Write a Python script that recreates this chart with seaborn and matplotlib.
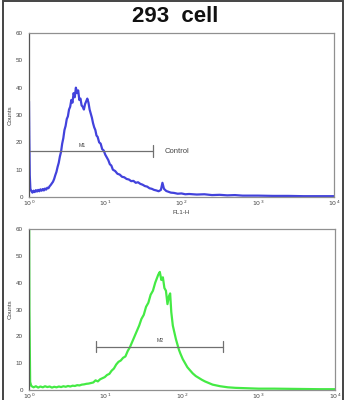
import matplotlib
matplotlib.use("Agg")
import matplotlib.pyplot as plt
from matplotlib.patches import Rectangle
import numpy as np
import pandas as pd
import seaborn as sns

# ---- data (x in log10 decades of FL1-H, y in counts) ----
title = "293  cell"
x_label = "FL1-H"
y_label = "Counts"
x_tick_labels = ["$10^0$", "$10^1$", "$10^2$", "$10^3$", "$10^4$"]
y_ticks = [0, 10, 20, 30, 40, 50, 60]

control_x = [0.000, 0.004, 0.010, 0.018, 0.030, 0.045, 0.060, 0.075, 0.090, 0.105,
             0.120, 0.135, 0.150, 0.165, 0.180, 0.195, 0.210, 0.225, 0.240, 0.255,
             0.270, 0.285, 0.300, 0.315, 0.330, 0.345, 0.360, 0.375, 0.390, 0.405,
             0.420, 0.435, 0.450, 0.465, 0.480, 0.495, 0.510, 0.525, 0.540, 0.555,
             0.570, 0.585, 0.600, 0.615, 0.630, 0.645, 0.660, 0.675, 0.690, 0.705,
             0.720, 0.735, 0.750, 0.765, 0.780, 0.795, 0.810, 0.825, 0.840, 0.855,
             0.870, 0.885, 0.900, 0.920, 0.940, 0.960, 0.980, 1.000, 1.020, 1.040,
             1.060, 1.080, 1.100, 1.130, 1.160, 1.190, 1.220, 1.250, 1.280, 1.310,
             1.340, 1.370, 1.400, 1.430, 1.460, 1.490, 1.520, 1.550, 1.580, 1.610,
             1.640, 1.670, 1.700, 1.730, 1.750, 1.770, 1.800, 1.830, 1.860, 1.900,
             1.950, 2.000, 2.050, 2.100, 2.200, 2.300, 2.400, 2.500, 2.600, 2.700,
             2.800, 3.000, 3.200, 3.400, 3.600, 3.800, 4.000]
control_y = [35, 22, 8, 3, 2.2, 1.6, 2.3, 1.8, 2.5, 2.0,
             2.6, 2.1, 2.8, 2.3, 2.9, 2.4, 3.1, 2.7, 3.4, 3.2,
             3.9, 4.4, 5.0, 5.6, 6.6, 8.0, 9.2, 11.0, 12.5, 14.8,
             16.5, 19.5, 21.5, 24.5, 26.0, 28.5, 29.5, 32.0, 33.0, 35.5,
             34.5, 38.0, 36.5, 40.0, 38.0, 39.0, 35.5, 36.0, 33.5, 33.0,
             32.0, 34.0, 35.0, 36.0, 34.5, 32.0, 30.5, 29.0, 27.0, 25.5,
             24.5, 22.5, 22.0, 20.0, 19.5, 17.5, 17.0, 15.5, 14.5, 13.5,
             12.0, 11.5, 10.0, 9.5, 8.5, 8.2, 7.4, 7.2, 6.6, 6.4,
             5.8, 5.9, 5.2, 5.4, 4.8, 4.5, 4.0, 3.8, 3.2, 3.0,
             2.6, 2.4, 2.1, 2.6, 5.2, 3.0, 2.2, 1.9, 1.6, 1.5,
             1.2, 1.3, 1.0, 1.1, 0.9, 1.0, 0.7, 0.8, 0.6, 0.7,
             0.5, 0.5, 0.4, 0.4, 0.3, 0.3, 0.3]

sample_x = [0.000, 0.005, 0.015, 0.030, 0.060, 0.090, 0.120, 0.150, 0.180, 0.210,
            0.240, 0.270, 0.300, 0.330, 0.360, 0.390, 0.420, 0.450, 0.480, 0.510,
            0.540, 0.570, 0.600, 0.630, 0.660, 0.690, 0.720, 0.750, 0.780, 0.810,
            0.840, 0.870, 0.900, 0.930, 0.960, 0.990, 1.020, 1.050, 1.080, 1.110,
            1.140, 1.170, 1.200, 1.230, 1.260, 1.290, 1.320, 1.350, 1.380, 1.410,
            1.440, 1.470, 1.500, 1.530, 1.560, 1.590, 1.620, 1.650, 1.670, 1.690,
            1.710, 1.730, 1.750, 1.770, 1.790, 1.810, 1.830, 1.845, 1.860, 1.880,
            1.900, 1.920, 1.940, 1.960, 1.980, 2.010, 2.040, 2.070, 2.100, 2.140,
            2.180, 2.220, 2.260, 2.300, 2.350, 2.400, 2.450, 2.500, 2.600, 2.700,
            2.800, 3.000, 3.200, 3.500, 3.800, 4.000]
sample_y = [80, 30, 3, 1.5, 1.0, 1.4, 0.9, 1.3, 1.0, 1.4,
            1.1, 1.3, 0.9, 1.2, 1.0, 1.3, 1.1, 1.4, 1.2, 1.5,
            1.3, 1.6, 1.5, 1.8, 1.7, 2.0, 2.1, 2.3, 2.4, 2.6,
            2.8, 3.6, 3.2, 4.0, 4.4, 4.8, 5.6, 6.0, 7.2, 8.0,
            9.5, 10.5, 11.0, 12.0, 12.5, 14.5, 16.0, 18.0, 20.0, 22.0,
            24.0, 26.5, 28.0, 31.0, 32.5, 35.5, 37.0, 40.0, 41.5, 43.0,
            44.0, 41.0, 42.0, 38.0, 37.0, 32.0, 35.0, 36.0, 29.0, 24.0,
            21.5, 19.0, 17.0, 15.0, 13.5, 11.5, 10.0, 8.5, 7.5, 6.2,
            5.2, 4.5, 3.8, 3.2, 2.6, 2.0, 1.7, 1.4, 1.0, 0.8,
            0.7, 0.5, 0.5, 0.4, 0.3, 0.3]

# markers: (start decade, end decade, count level, label)
m1_range = [0.0, 1.63]
m1_level = 16.8
m1_label = "M1"
control_label = "Control"
m2_range = [0.88, 2.54]
m2_level = 16.2
m2_label = "M2"

# ---- drawing ----
sns.set_style("white")
plt.rcParams["font.family"] = ["Liberation Sans", "DejaVu Sans"]

W, H = 346, 400
fig = plt.figure(figsize=(W / 100, H / 100), dpi=100)
fig.patch.set_facecolor("white")

ax1 = fig.add_axes([29 / W, 1 - 197 / H, 305 / W, 164 / H])
ax2 = fig.add_axes([29 / W, 1 - 390 / H, 306 / W, 161 / H])

df1 = pd.DataFrame({"x": control_x, "y": control_y})
df2 = pd.DataFrame({"x": sample_x, "y": sample_y})
sns.lineplot(data=df1, x="x", y="y", ax=ax1, color="#4242dc", lw=1.6, estimator=None)
sns.lineplot(data=df2, x="x", y="y", ax=ax2, color="#44ea44", lw=1.6, estimator=None)

minor_x = [d + np.log10(k) for d in range(4) for k in range(2, 10)]
for ax in (ax1, ax2):
    ax.set_xlim(0, 4)
    ax.set_ylim(0, 60)
    ax.set_xticks(range(5))
    ax.set_xticklabels(x_tick_labels, fontsize=4.5, color="#444444")
    ax.set_xticks(minor_x, minor=True)
    ax.set_yticks(y_ticks)
    ax.set_yticklabels([str(v) for v in y_ticks], fontsize=4.5, color="#444444")
    ax.set_yticks(np.arange(0, 61, 2), minor=True)
    ax.tick_params(axis="both", which="major", length=3, width=0.7, color="#555555", pad=1.5)
    ax.tick_params(axis="both", which="minor", length=1.6, width=0.5, color="#777777")
    ax.tick_params(axis="x", which="both", direction="in")
    ax.set_ylabel(y_label, fontsize=4.5, color="#444444", labelpad=2)
    ax.set_xlabel("")
    for s in ax.spines.values():
        s.set_color("#909090")
        s.set_linewidth(0.9)
    ax.spines["left"].set_color("#555555")
    ax.set_facecolor("white")

ax1.set_xlabel(x_label, fontsize=4.5, color="#444444", labelpad=1)

# marker bars
def bar(ax, rng, lvl, label, left_tick=True):
    ax.plot(rng, [lvl, lvl], color="#707070", lw=0.9)
    if left_tick:
        ax.plot([rng[0], rng[0]], [lvl - 2.2, lvl + 2.2], color="#707070", lw=0.9)
    ax.plot([rng[1], rng[1]], [lvl - 2.2, lvl + 2.2], color="#707070", lw=0.9)
    ax.text((rng[0] + rng[1]) / 2 if left_tick else 0.70, lvl + 1.2, label,
            fontsize=3.8, color="#444444", ha="center", va="bottom")

bar(ax1, m1_range, m1_level, m1_label, left_tick=False)
ax1.text(m1_range[1] + 0.15, m1_level, control_label, fontsize=5.5,
         color="#444444", ha="left", va="center")
bar(ax2, m2_range, m2_level, m2_label)

fig.text(175 / W, 1 - 17 / H, title, fontsize=16, fontweight="bold",
         ha="center", va="center", color="#111111")

fig.patches.append(Rectangle((2.5 / W, -0.05), 340.5 / W, 1.05 - 1.2 / H,
                             transform=fig.transFigure, fill=False,
                             edgecolor="#444444", lw=1.4))

fig.savefig("out.png", dpi=100, facecolor="white")
